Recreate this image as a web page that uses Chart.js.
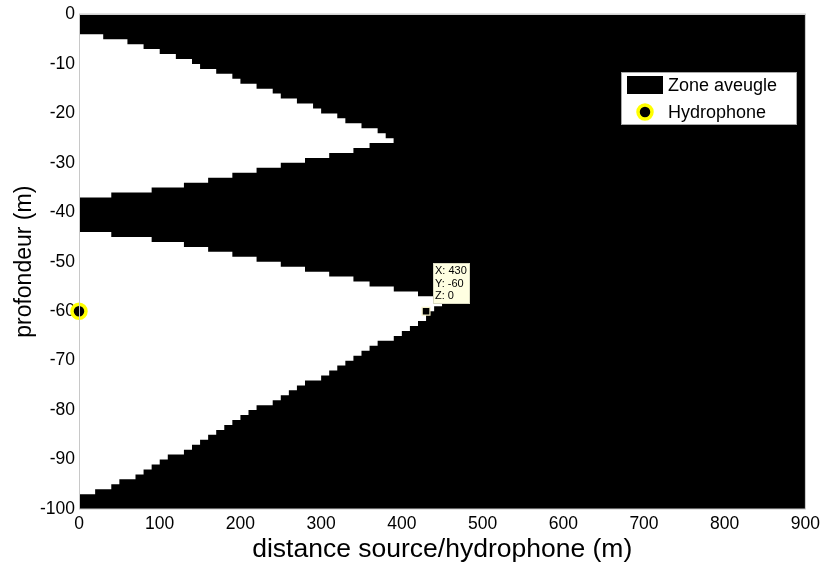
<!DOCTYPE html>
<html>
<head>
<meta charset="utf-8">
<script src="https://cdn.jsdelivr.net/npm/chart.js@4.4.1/dist/chart.umd.min.js"></script>
<style>
  html, body { margin: 0; padding: 0; background: #fff; }
  #wrap { width: 825px; height: 567px; }
</style>
</head>
<body>
<div id="wrap"><canvas id="grafico" width="825" height="567"></canvas></div>
<script>
// limites des zones "entendues" (blanches), en marches de 10 m
const upperTopX = [0, 30, 60, 80, 100, 120, 140, 150, 170, 190, 200, 220, 240, 250, 270, 290, 300, 320, 330, 350, 370, 380, 390];
const upperTopY = [-4, -5, -6, -7, -8, -9, -10, -11, -12, -13, -14, -15, -16, -17, -18, -19, -20, -21, -22, -23, -24, -25, -25];

const upperBotX = [0, 40, 90, 130, 160, 190, 220, 250, 280, 310, 340, 360, 390];
const upperBotY = [-37, -36, -35, -34, -33, -32, -31, -30, -29, -28, -27, -26, -26];

const lowerTopX = [0, 40, 90, 130, 160, 190, 220, 250, 280, 310, 340, 360, 390, 420, 450];
const lowerTopY = [-44, -45, -46, -47, -48, -49, -50, -51, -52, -53, -54, -55, -56, -57, -57];

const lowerBotX = [0, 20, 40, 50, 70, 80, 90, 100, 110, 130, 140, 150, 160, 170, 180, 190, 200, 210, 220, 240,
  250, 260, 270, 280, 300, 310, 320, 330, 340, 350, 360, 370, 390, 400, 410, 420, 430, 440, 450];
const lowerBotY = [-97, -96, -95, -94, -93, -92, -91, -90, -89, -88, -87, -86, -85, -84, -83, -82, -81, -80, -79, -78,
  -77, -76, -75, -74, -73, -72, -71, -70, -69, -68, -67, -66, -65, -64, -63, -62, -60, -59, -59];

// hydrophone et point du datatip
const hydrophone = { x: 0, y: -60 };
const dataTip = { x: 430, y: -60, z: 0 };

const xTicks = [0, 900, 100];   // min, max, pas
const yTicks = [-100, 0, 10];

const FONT = "'Liberation Sans', Arial, Helvetica, sans-serif";

// marches explicites : la valeur tient jusqu'au x suivant
function marches(xs, ys) {
  const out = [];
  for (let i = 0; i < xs.length - 1; i++) {
    out.push({ x: xs[i], y: ys[i] });
    out.push({ x: xs[i + 1], y: ys[i] });
  }
  return out;
}

// legende dessinee dans la zone du graphe
const legendeInterne = {
  id: 'legendeInterne',
  afterDraw(chart) {
    const ctx = chart.ctx;
    ctx.save();
    ctx.fillStyle = '#fff';
    ctx.fillRect(621, 72, 176, 53);
    ctx.strokeStyle = '#a8a8a8';
    ctx.lineWidth = 1;
    ctx.strokeRect(621.5, 72.5, 175, 52);

    ctx.fillStyle = '#000';
    ctx.fillRect(627, 76, 36, 18);

    ctx.beginPath();
    ctx.arc(645, 112, 7, 0, Math.PI * 2);
    ctx.fillStyle = '#000';
    ctx.fill();
    ctx.lineWidth = 3.5;
    ctx.strokeStyle = '#ffff00';
    ctx.stroke();

    ctx.fillStyle = '#000';
    ctx.font = '18px ' + FONT;
    ctx.textBaseline = 'middle';
    ctx.textAlign = 'left';
    ctx.fillText('Zone aveugle', 668, 86);
    ctx.fillText('Hydrophone', 668, 113);
    ctx.restore();
  }
};

// bulle du datatip (X, Y, Z) + cadre des axes
const bulle = {
  id: 'bulle',
  afterDatasetsDraw(chart) {
    const ctx = chart.ctx;
    const px = chart.scales.x.getPixelForValue(dataTip.x);
    const py = chart.scales.y.getPixelForValue(dataTip.y);
    const bx = Math.round(px) + 7, by = Math.round(py) - 48;
    ctx.save();
    ctx.fillStyle = '#ffffe1';
    ctx.fillRect(bx, by, 37, 41);
    ctx.strokeStyle = '#d8d8c0';
    ctx.lineWidth = 1;
    ctx.strokeRect(bx + 0.5, by + 0.5, 36, 40);
    ctx.fillStyle = '#000';
    ctx.font = '11px ' + FONT;
    ctx.textBaseline = 'middle';
    ctx.fillText('X: ' + dataTip.x, bx + 2, by + 8);
    ctx.fillText('Y: ' + dataTip.y, bx + 2, by + 20.5);
    ctx.fillText('Z: ' + dataTip.z, bx + 2, by + 32.5);
    ctx.restore();
  },
  afterDraw(chart) {
    const a = chart.chartArea;
    const ctx = chart.ctx;
    ctx.save();
    ctx.strokeStyle = '#c8c8c8';
    ctx.lineWidth = 1;
    ctx.strokeRect(a.left + 0.5, a.top - 0.5, a.right - a.left - 0.5, a.bottom - a.top + 0.5);
    ctx.restore();
  }
};

const bord = {
  showLine: true,
  borderWidth: 0,
  borderColor: 'rgba(0,0,0,0)',
  pointRadius: 0,
  tension: 0,
  order: 5
};

new Chart(document.getElementById('grafico'), {
  type: 'scatter',
  data: {
    datasets: [
      {
        label: 'Zone aveugle',
        data: [{ x: xTicks[0], y: yTicks[1] }, { x: xTicks[1], y: yTicks[1] }],
        showLine: true,
        borderWidth: 0,
        pointRadius: 0,
        backgroundColor: '#000',
        fill: 'start',
        order: 10
      },
      Object.assign({ label: 'haut1', data: marches(upperTopX, upperTopY), fill: false }, bord),
      Object.assign({ label: 'bas1', data: marches(upperBotX, upperBotY), fill: '-1', backgroundColor: '#fff' }, bord),
      Object.assign({ label: 'haut2', data: marches(lowerTopX, lowerTopY), fill: false }, bord),
      Object.assign({ label: 'bas2', data: marches(lowerBotX, lowerBotY), fill: '-1', backgroundColor: '#fff' }, bord),
      {
        label: 'datatip',
        data: [{ x: dataTip.x, y: dataTip.y }],
        pointStyle: 'rect',
        pointRadius: 5.5,
        backgroundColor: '#000',
        borderColor: '#f4f0c8',
        borderWidth: 1.2,
        order: 1
      },
      {
        label: 'Hydrophone',
        data: [hydrophone],
        pointRadius: 7,
        backgroundColor: '#000',
        borderColor: '#ffff00',
        borderWidth: 3.5,
        clip: false,
        order: 0
      }
    ]
  },
  options: {
    responsive: false,
    animation: false,
    layout: { padding: { top: 12.5, right: 15, left: 0, bottom: 0 } },
    plugins: {
      legend: { display: false },
      tooltip: { enabled: false },
      title: { display: false }
    },
    scales: {
      x: {
        type: 'linear',
        min: xTicks[0],
        max: xTicks[1],
        grid: { display: false, drawTicks: false },
        border: { display: false },
        ticks: { stepSize: xTicks[2], color: '#000', padding: 5, font: { family: FONT, size: 17.5 } },
        title: {
          display: true,
          text: 'distance source/hydrophone (m)',
          color: '#000',
          font: { family: FONT, size: 26.5, lineHeight: 1.2 },
          padding: { top: 0, bottom: 1 }
        },
        afterFit(scale) { scale.height = 58; }
      },
      y: {
        type: 'linear',
        min: yTicks[0],
        max: yTicks[1],
        grid: { display: false, drawTicks: false },
        border: { display: false },
        ticks: { stepSize: yTicks[2], color: '#000', padding: 4, font: { family: FONT, size: 17.5 } },
        title: {
          display: true,
          text: 'profondeur (m)',
          color: '#000',
          font: { family: FONT, size: 23, lineHeight: 1.2 },
          padding: { top: 11, bottom: 0 }
        },
        afterFit(scale) { scale.width = 79; }
      }
    }
  },
  plugins: [bulle, legendeInterne]
});
</script>
</body>
</html>
